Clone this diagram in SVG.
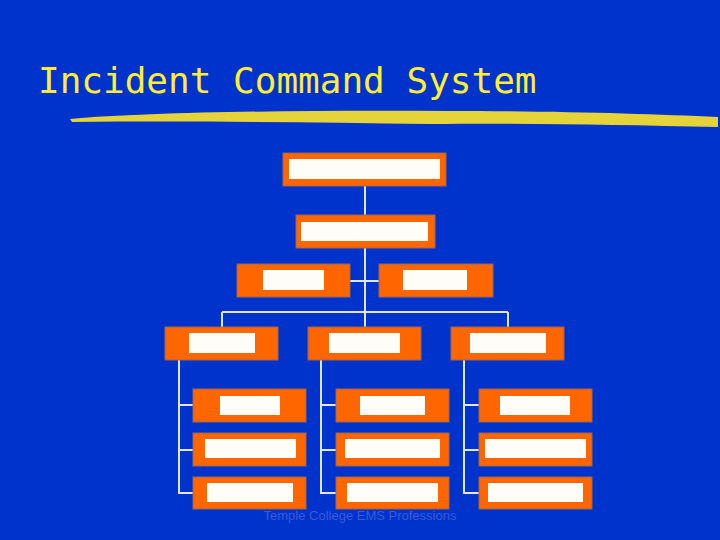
<svg xmlns="http://www.w3.org/2000/svg" width="720" height="540" viewBox="0 0 720 540">
<style>
.o{fill:#ff6600;stroke:#996655;stroke-width:1}
.w{fill:#fffdf8}
.c{stroke:#dde8ff;stroke-width:2;fill:none}
</style>
<rect width="720" height="540" fill="#0033cc"/>
<text x="38" y="93" font-family="DejaVu Sans Mono, monospace" font-size="36" fill="#ffee33">Incident Command System</text>
<path d="M70,119 C150,112 300,110 450,111 C560,111 650,114 718,117 L718,127 C620,125 540,123 430,124 C300,122 180,121 72,122 Z" fill="#f0dc30" opacity="0.95"/>
<g id="connectors" class="c">
<path d="M365,186 V327 M350,281 H379 M222,312 H508 M222,312 V327 M508,312 V327"/>
<path d="M179,360 V493 H193 M179,405 H193 M179,450 H193"/>
<path d="M321,360 V493 H336 M321,405 H336 M321,450 H336"/>
<path d="M464,360 V493 H479 M464,405 H479 M464,450 H479"/>
</g>
<g id="n1"><rect class="o" x="283" y="153" width="163" height="33"/><rect class="w" x="289" y="159" width="151" height="20"/></g>
<g id="n2"><rect class="o" x="296" y="215" width="139" height="33"/><rect class="w" x="301" y="222" width="127" height="19"/></g>
<g id="n3a"><rect class="o" x="237" y="264" width="113" height="33"/><rect class="w" x="263" y="270" width="61" height="20"/></g>
<g id="n3b"><rect class="o" x="379" y="264" width="114" height="33"/><rect class="w" x="403" y="270" width="64" height="20"/></g>
<g id="n4a"><rect class="o" x="165" y="327" width="113" height="33"/><rect class="w" x="189" y="333" width="66" height="20"/></g>
<g id="n4b"><rect class="o" x="308" y="327" width="113" height="33"/><rect class="w" x="329" y="333" width="71" height="20"/></g>
<g id="n4c"><rect class="o" x="451" y="327" width="113" height="33"/><rect class="w" x="470" y="333" width="76" height="20"/></g>
<g id="n5a"><rect class="o" x="193" y="389" width="113" height="33"/><rect class="w" x="220" y="396" width="60" height="19"/></g>
<g id="n6a"><rect class="o" x="193" y="433" width="113" height="33"/><rect class="w" x="205" y="439" width="91" height="19"/></g>
<g id="n7a"><rect class="o" x="193" y="477" width="113" height="32"/><rect class="w" x="207" y="483" width="86" height="19"/></g>
<g id="n5b"><rect class="o" x="336" y="389" width="113" height="33"/><rect class="w" x="360" y="396" width="65" height="19"/></g>
<g id="n6b"><rect class="o" x="336" y="433" width="113" height="33"/><rect class="w" x="345" y="439" width="95" height="19"/></g>
<g id="n7b"><rect class="o" x="336" y="477" width="113" height="32"/><rect class="w" x="347" y="483" width="91" height="19"/></g>
<g id="n5c"><rect class="o" x="479" y="389" width="113" height="33"/><rect class="w" x="500" y="396" width="70" height="19"/></g>
<g id="n6c"><rect class="o" x="479" y="433" width="113" height="33"/><rect class="w" x="485" y="439" width="101" height="19"/></g>
<g id="n7c"><rect class="o" x="479" y="477" width="113" height="32"/><rect class="w" x="488" y="483" width="95" height="19"/></g>
<text x="360" y="520" text-anchor="middle" font-family="Liberation Sans, sans-serif" font-size="13" fill="#3a5ad8">Temple College EMS Professions</text>
</svg>
